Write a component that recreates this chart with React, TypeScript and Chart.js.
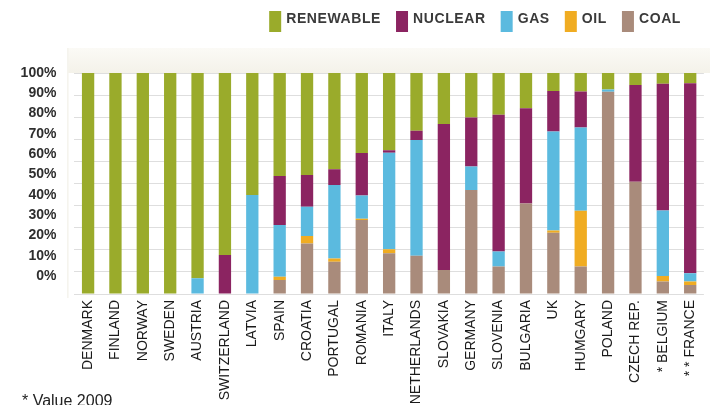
import React, { useEffect, useRef } from 'react';
import { Chart, registerables } from 'chart.js';

Chart.register(...registerables);

const countries = [
  'DENMARK', 'FINLAND', 'NORWAY', 'SWEDEN', 'AUSTRIA', 'SWITZERLAND', 'LATVIA', 'SPAIN',
  'CROATIA', 'PORTUGAL', 'ROMANIA', 'ITALY', 'NETHERLANDS', 'SLOVAKIA', 'GERMANY', 'SLOVENIA',
  'BULGARIA', 'UK', 'HUMGARY', 'POLAND', 'CZECH REP.', '* BELGIUM', '* * FRANCE',
];

const coal = [0, 0, 0, 0, 0, 0, 0, 6.3, 22.9, 14.6, 33.5, 18.4, 17.3, 10.9, 47.1, 12.4, 41, 27.7, 12.4, 91.5, 50.8, 5.6, 4.1];
const oil = [0, 0, 0, 0, 0, 0, 0, 1.5, 3.3, 1.5, 0.5, 1.8, 0, 0, 0, 0, 0, 1, 25.3, 0, 0, 2.6, 1.5];
const gas = [0, 0, 0, 0, 7.1, 0, 44.8, 23.4, 13.3, 33.2, 10.6, 43.7, 52.4, 0, 10.6, 6.8, 0, 44.8, 37.6, 1, 0, 29.6, 3.8];
const nuclear = [0, 0, 0, 0, 0, 17.6, 0, 22.2, 14.3, 7.2, 19.2, 1.2, 4.2, 66, 22.2, 61.9, 43, 18.4, 16.3, 0, 43.8, 57.3, 86];
const renewable = [100, 100, 100, 100, 92.9, 82.4, 55.2, 46.6, 46.2, 43.5, 36.2, 34.9, 26.1, 23.1, 20.1, 18.9, 16, 8.1, 8.4, 7.5, 5.4, 4.9, 4.6];

const yTickValues = [0, 10, 20, 30, 40, 50, 60, 70, 80, 90, 100];
const footnote = '* Value 2009';

const COLORS = {
  coal: '#a98b7b',
  oil: '#f0ac22',
  gas: '#5bbadf',
  nuclear: '#8b2461',
  renewable: '#9aab2b',
};

const FONT = '"Liberation Sans", Arial, sans-serif';

export default function App() {
  const ref = useRef<HTMLCanvasElement>(null);

  useEffect(() => {
    if (!ref.current) return;

    const backgroundPlugin = {
      id: 'bgPlugin',
      beforeDraw(chart: any) {
        const { ctx, chartArea } = chart;
        ctx.save();
        ctx.fillStyle = '#ffffff';
        ctx.fillRect(0, 0, chart.width, chart.height);
        const g = ctx.createLinearGradient(0, chartArea.top - 25, 0, chartArea.top);
        g.addColorStop(0, '#fbfaf6');
        g.addColorStop(1, '#f4f2e9');
        ctx.fillStyle = g;
        ctx.fillRect(chartArea.left - 6, chartArea.top - 25, chart.width, 25);
        ctx.strokeStyle = '#efede4';
        ctx.lineWidth = 1;
        ctx.beginPath();
        ctx.moveTo(chartArea.left - 6.5, chartArea.top - 25);
        ctx.lineTo(chartArea.left - 6.5, chartArea.bottom + 4);
        ctx.stroke();
        ctx.restore();
      },
    };

    const legendPlugin = {
      id: 'customLegend',
      afterDraw(chart: any) {
        const { ctx } = chart;
        const items = chart.data.datasets.slice().reverse();
        ctx.save();
        ctx.font = 'bold 14px ' + FONT;
        (ctx as any).letterSpacing = '0.6px';
        const boxW = 12;
        const boxH = 21;
        const gapBox = 5;
        const gapItem = 15;
        const widths = items.map((d: any) => ctx.measureText(d.label).width);
        let total = 0;
        widths.forEach((w: number, i: number) => {
          total += boxW + gapBox + w + (i < widths.length - 1 ? gapItem : 0);
        });
        let x = 681 - total;
        const top = 11;
        items.forEach((d: any, i: number) => {
          ctx.fillStyle = d.backgroundColor;
          ctx.fillRect(x, top, boxW, boxH);
          x += boxW + gapBox;
          ctx.fillStyle = '#3a3a3a';
          ctx.textBaseline = 'alphabetic';
          ctx.textAlign = 'left';
          ctx.fillText(d.label, x, top + 12);
          x += widths[i] + gapItem;
        });
        ctx.restore();

        ctx.save();
        ctx.font = '16px ' + FONT;
        ctx.fillStyle = '#222';
        ctx.textAlign = 'left';
        ctx.textBaseline = 'alphabetic';
        ctx.fillText(footnote, 22, 406);
        ctx.restore();
      },
    };

    const chart = new Chart(ref.current, {
      type: 'bar',
      data: {
        labels: countries,
        datasets: [
          { label: 'COAL', data: coal, backgroundColor: COLORS.coal },
          { label: 'OIL', data: oil, backgroundColor: COLORS.oil },
          { label: 'GAS', data: gas, backgroundColor: COLORS.gas },
          { label: 'NUCLEAR', data: nuclear, backgroundColor: COLORS.nuclear },
          { label: 'RENEWABLE', data: renewable, backgroundColor: COLORS.renewable },
        ],
      },
      options: {
        animation: false,
        responsive: true,
        maintainAspectRatio: false,
        layout: { padding: { top: 73, left: 0, right: 0, bottom: 0 } },
        datasets: {
          bar: { categoryPercentage: 1, barPercentage: 0.45, borderWidth: 0 },
        },
        plugins: {
          legend: { display: false },
          tooltip: { enabled: false },
          title: { display: false },
        },
        scales: {
          x: {
            stacked: true,
            grid: { display: false, drawTicks: false },
            border: { display: false },
            afterFit: (s: any) => { s.height = 111; },
            ticks: {
              autoSkip: false,
              maxRotation: 90,
              minRotation: 90,
              padding: 6,
              color: '#1a1a1a',
              font: { family: FONT, size: 14 },
            },
          },
          y: {
            stacked: true,
            min: 0,
            max: 100,
            position: 'left',
            grid: { color: '#dedede', lineWidth: 1, drawTicks: false },
            border: { display: false },
            ticks: { display: false, stepSize: 10 },
            afterFit: (s: any) => { s.width = 0; },
          },
          yl: {
            type: 'linear',
            position: 'left',
            min: -8.87,
            max: 100,
            grid: { display: false, drawTicks: false },
            border: { display: false },
            afterFit: (s: any) => { s.width = 74.4; },
            afterBuildTicks: (s: any) => { s.ticks = yTickValues.map((v) => ({ value: v })); },
            ticks: {
              autoSkip: false,
              padding: 18,
              color: '#2e2e2e',
              font: { family: FONT, size: 14, weight: 'bold' },
              callback: (v: any) => v + '%',
            },
          },
        },
      },
      plugins: [backgroundPlugin, legendPlugin],
    });

    return () => chart.destroy();
  }, []);

  return (
    <div style={{ position: 'fixed', left: 0, top: 0, width: 710, height: 405, overflow: 'hidden', background: '#fff' }}>
      <div style={{ position: 'relative', width: 713, height: 405 }}>
        <canvas ref={ref} />
      </div>
    </div>
  );
}
